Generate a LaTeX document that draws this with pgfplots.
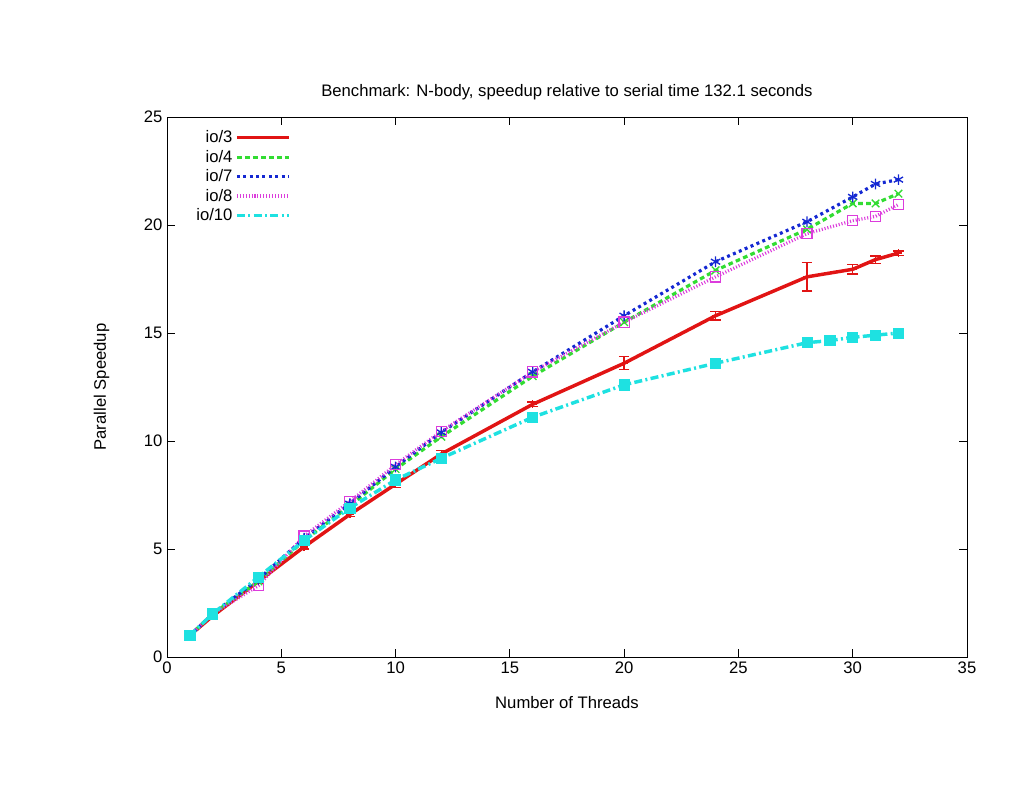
\documentclass[border=0pt]{standalone}
\usepackage{fontspec}
\setmainfont{Liberation Sans}
\usepackage{pgfplots}
\pgfplotsset{compat=1.18}

\definecolor{gpred}{RGB}{225,20,20}
\definecolor{gpgreen}{RGB}{50,220,50}
\definecolor{gpblue}{RGB}{20,40,210}
\definecolor{gpmag}{RGB}{220,60,220}
\definecolor{gpcyan}{RGB}{30,225,225}

\begin{document}
\begin{tikzpicture}[x=0.75pt,y=0.75pt]
% page frame, reference pixels: axis box from (167,117) to (967,657)
\path (-167,-133) rectangle (857,657);
\begin{axis}[
  at={(0,0)}, anchor=south west,
  scale only axis,
  width=600pt, height=405pt,
  xmin=0, xmax=35, ymin=0, ymax=25,
  xtick={0,5,...,35}, ytick={0,5,...,25},
  tick align=inside,
  major tick length=6pt,
  tick style={black, line width=0.6pt},
  axis line style={line width=0.6pt},
  font=\fontsize{12.5pt}{14pt}\selectfont,
  /pgf/number format/assume math mode=true,
  title={Benchmark: N-body, speedup relative to serial time 132.1 seconds},
  title style={at={(0.5,1)}, anchor=south, yshift=3pt},
  xlabel={Number of Threads},
  ylabel={Parallel Speedup},
  xlabel style={yshift=-10pt},
  ylabel style={yshift=19pt},
  legend plot pos=right,
  legend cell align=right,
  legend style={draw=none, fill=none, at={(0.028,0.985)}, anchor=north west,
    font=\fontsize{12.5pt}{13pt}\selectfont, row sep=0pt,
    /tikz/every even column/.append style={column sep=7pt}},
  legend image post style={mark=none},
  legend image code/.code={\draw[#1] (0cm,0cm) -- (0.54in,0cm);},
]
\addplot[gpred, line width=2.6pt, mark=+, mark size=3pt,
  mark options={solid, line width=1pt},
  error bars/.cd, y dir=both, y explicit,
  error bar style={line width=1pt, gpred}, error mark options={rotate=90, mark size=4pt, line width=1pt, gpred}]
coordinates {
(1,1.0) +- (0,0.02)
(2,1.9) +- (0,0.05)
(4,3.5) +- (0,0.08)
(6,5.1) +- (0,0.1)
(8,6.6) +- (0,0.1)
(10,8.0) +- (0,0.15)
(12,9.4) +- (0,0.15)
(16,11.7) +- (0,0.1)
(20,13.6) +- (0,0.3)
(24,15.8) +- (0,0.2)
(28,17.6) +- (0,0.65)
(30,17.95) +- (0,0.22)
(31,18.4) +- (0,0.17)
(32,18.7) +- (0,0.1)
};
\addlegendentry{io/3}
\addplot[gpgreen, line width=2.4pt, dash pattern=on 3.5pt off 2.5pt, mark=x, mark size=4pt,
  mark options={solid, line width=1pt}]
coordinates {
(1,1.0) (2,2.0) (4,3.5) (6,5.4) (8,7.0) (10,8.7) (12,10.2) (16,13.0)
(20,15.5) (24,17.9) (28,19.8) (30,21.0) (31,21.0) (32,21.45)
};
\addlegendentry{io/4}
\addplot[gpblue, line width=2.4pt, dash pattern=on 2.2pt off 2.6pt, mark=asterisk, mark size=4pt,
  mark options={solid, line width=1pt}]
coordinates {
(1,1.0) (2,2.0) (4,3.6) (6,5.5) (8,7.1) (10,8.8) (12,10.4) (16,13.2)
(20,15.8) (24,18.3) (28,20.15) (30,21.3) (31,21.9) (32,22.1)
};
\addlegendentry{io/7}
\addplot[gpmag, line width=2.4pt, dash pattern=on 0.8pt off 1.4pt, mark=square, mark size=3.8pt,
  mark options={solid, line width=1pt}]
coordinates {
(1,1.0) (2,2.0) (4,3.3) (6,5.6) (8,7.2) (10,8.9) (12,10.45) (16,13.2)
(20,15.5) (24,17.6) (28,19.6) (30,20.2) (31,20.4) (32,20.95)
};
\addlegendentry{io/8}
\addplot[gpcyan, line width=2.6pt, dash pattern=on 6pt off 2.5pt on 1.5pt off 2.5pt, mark=square*, mark size=3.8pt,
  mark options={solid, line width=0.5pt}]
coordinates {
(1,1.0) (2,2.0) (4,3.7) (6,5.4) (8,6.9) (10,8.2) (12,9.2) (16,11.1)
(20,12.6) (24,13.6) (28,14.55) (29,14.65) (30,14.8) (31,14.9) (32,15.0)
};
\addlegendentry{io/10}
\end{axis}
\end{tikzpicture}
\end{document}
